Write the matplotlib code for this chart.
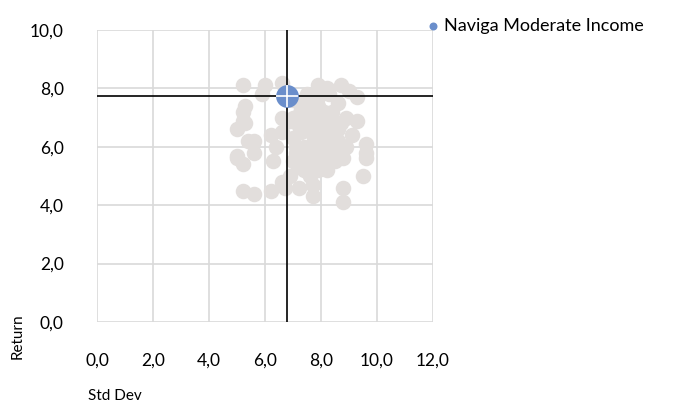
import matplotlib
matplotlib.use("Agg")
import matplotlib.pyplot as plt
from matplotlib.ticker import FuncFormatter

# peer funds (std dev, return)
std_dev = [5.2, 6.0, 6.6, 7.9, 8.7, 8.2, 9.0, 9.3, 5.9, 7.5,
           5.3, 5.2, 5.2, 5.3, 5.0, 5.4, 5.6, 5.0, 5.0, 5.2,
           5.6, 5.2, 5.6, 6.2, 6.2, 6.4, 6.3, 6.6, 6.6, 6.6,
           6.7, 6.9, 7.2, 7.4, 7.7, 7.7, 8.2, 8.8, 8.8, 9.5,
           9.6, 9.6, 9.6, 9.3, 9.1, 8.8, 8.5, 8.4, 8.0, 7.7,
           7.4, 7.0, 7.2, 7.6, 7.9, 8.4, 8.6, 8.9, 8.0, 8.2,
           7.7, 7.3, 7.0, 7.6, 8.3, 7.8, 7.3, 8.6, 8.9, 7.0,
           7.5, 8.1, 7.9, 8.5, 6.9, 7.1,
           7.2, 7.5, 7.8, 8.1, 8.4, 8.7, 7.3, 7.6, 7.9, 8.2,
           8.5, 7.1, 7.4, 7.7, 8.0, 8.3, 8.6, 7.2, 7.5, 7.8,
           8.1, 8.4, 7.4, 7.9, 8.3, 7.0, 8.7, 7.6]
returns = [8.1, 8.1, 8.2, 8.1, 8.1, 8.0, 7.9, 7.7, 7.8, 7.8,
           7.4, 7.2, 6.9, 6.8, 6.6, 6.2, 6.2, 5.7, 5.6, 5.4,
           5.8, 4.5, 4.4, 4.5, 6.4, 6.0, 5.5, 6.5, 7.0, 4.8,
           4.6, 5.0, 4.6, 5.2, 4.7, 4.3, 5.2, 4.6, 4.1, 5.0,
           5.6, 5.8, 6.1, 6.9, 6.4, 5.6, 5.9, 6.1, 5.5, 5.7,
           6.0, 6.3, 6.7, 7.0, 7.4, 7.2, 7.5, 7.0, 6.8, 6.3,
           6.4, 7.3, 7.6, 7.6, 7.8, 5.9, 5.6, 6.6, 6.0, 5.5,
           6.7, 6.0, 5.2, 5.5, 6.9, 6.0,
           7.1, 7.3, 7.1, 7.2, 6.9, 6.8, 6.5, 6.6, 6.5, 6.6,
           6.4, 5.8, 5.8, 6.1, 6.2, 5.9, 6.2, 5.3, 5.4, 5.3,
           5.7, 5.6, 7.6, 7.7, 6.7, 7.0, 5.8, 5.0]

fund_name = "Naviga Moderate Income"
fund_std = 6.8
fund_ret = 7.75

x_ticks = [0, 2, 4, 6, 8, 10, 12]
y_ticks = [0, 2, 4, 6, 8, 10]

plt.rcParams['font.family'] = ['Lato', 'DejaVu Sans']

fig = plt.figure(figsize=(6.88, 4.04), dpi=100)
ax = fig.add_axes([97/688, 1-322/404, 336/688, 292/404])

ax.scatter(std_dev, returns, s=125, color='#E2DEDC', zorder=2, linewidths=0)
ax.plot([fund_std, fund_std], [-0.1, 10], color='black', lw=1.2, zorder=3)
ax.plot([0, 12], [fund_ret, fund_ret], color='black', lw=1.2, zorder=3)
ax.scatter([fund_std], [fund_ret], s=270, color='#6A8ECB', zorder=4,
           linewidths=0, label=fund_name)
ax.scatter([fund_std], [fund_ret], s=270, marker='+', color='white',
           linewidths=1.2, zorder=5)

ax.set_xlim(0, 12)
ax.set_ylim(0, 10)
ax.set_xticks(x_ticks)
ax.set_yticks(y_ticks)
fmt = FuncFormatter(lambda v, p: f"{v:.1f}".replace('.', ','))
ax.xaxis.set_major_formatter(fmt)
ax.yaxis.set_major_formatter(fmt)
ax.tick_params(length=0, labelsize=12.5, colors='#000000')
ax.tick_params(axis='x', pad=22)
ax.tick_params(axis='y', pad=24)
ax.grid(True, color='#D9D9D9', lw=1.2, zorder=1)
ax.set_axisbelow(True)
for sp in ax.spines.values():
    sp.set_visible(False)

fig.text(18/688, 1-336/404, "Return", rotation=90, fontsize=11,
         ha='center', va='center')
fig.text(88/688, 1-396/404, "Std Dev", fontsize=11, ha='left', va='center')

leg = fig.legend(loc='upper left', bbox_to_anchor=(408/688, 1-11/404),
                 frameon=False, fontsize=13, handletextpad=-0.4,
                 markerscale=0.35, borderaxespad=0)

fig.savefig("out.png", dpi=100)
